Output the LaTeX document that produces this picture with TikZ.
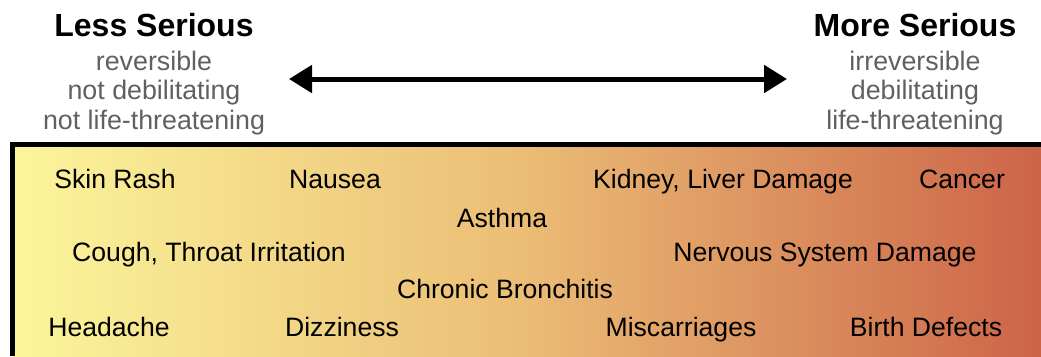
\documentclass[tikz,border=0pt]{standalone}
\usepackage{fontspec}
\setmainfont{Liberation Sans}
\usetikzlibrary{arrows.meta}
\definecolor{yel}{HTML}{FBF59B}
\definecolor{mid}{HTML}{EBBC75}
\definecolor{red}{HTML}{CC6448}
\definecolor{graytxt}{HTML}{606060}
\tikzset{
  title/.style={anchor=base,inner sep=0pt,font=\fontsize{32}{32}\selectfont\bfseries},
  sub/.style={anchor=base,inner sep=0pt,text=graytxt,font=\fontsize{26.8}{26.8}\selectfont},
  effect/.style={anchor=base,inner sep=0pt,font=\fontsize{26.6}{26.6}\selectfont},
  bigarrow/.style={line width=5pt,{Triangle[length=23pt,width=27pt]}-{Triangle[length=23pt,width=27pt]}}
}
\begin{document}
\begin{tikzpicture}[x=1pt,y=-1pt]
\useasboundingbox (0,0) rectangle (1041,356);
% gradient box
\shade[left color=yel,right color=mid,shading angle=90] (14,146) rectangle (528,356);
\shade[left color=mid,right color=red,shading angle=90] (527,146) rectangle (1041,356);
\draw[line width=5pt] (12,356) -- (12,144) -- (1041,144);
% headers
\node[title] (ls) at (154,36) {Less Serious};
\node[sub] (ls1) at (154,70) {reversible};
\node[sub] (ls2) at (154,99.5) {not debilitating};
\node[sub] (ls3) at (154,129) {not life-threatening};
\node[title] (ms) at (915,36) {More Serious};
\node[sub] (ms1) at (915,70) {irreversible};
\node[sub] (ms2) at (915,99.5) {debilitating};
\node[sub] (ms3) at (915,129) {life-threatening};
\coordinate (al) at (289,79);
\coordinate (ar) at (787,79);
\draw[bigarrow] (al) -- (ar);
% effects
\node[effect] (e1) at (115,188) {Skin Rash};
\node[effect] (e2) at (335,188) {Nausea};
\node[effect] (e3) at (723,188) {Kidney, Liver Damage};
\node[effect] (e4) at (962,188) {Cancer};
\node[effect] (e5) at (502,227) {Asthma};
\node[effect] (e6) at (209,261) {Cough, Throat Irritation};
\node[effect] (e7) at (825,261) {Nervous System Damage};
\node[effect] (e8) at (505,298) {Chronic Bronchitis};
\node[effect] (e9) at (109,336) {Headache};
\node[effect] (e10) at (342,336) {Dizziness};
\node[effect] (e11) at (681,336) {Miscarriages};
\node[effect] (e12) at (926,336) {Birth Defects};
\end{tikzpicture}
\end{document}
